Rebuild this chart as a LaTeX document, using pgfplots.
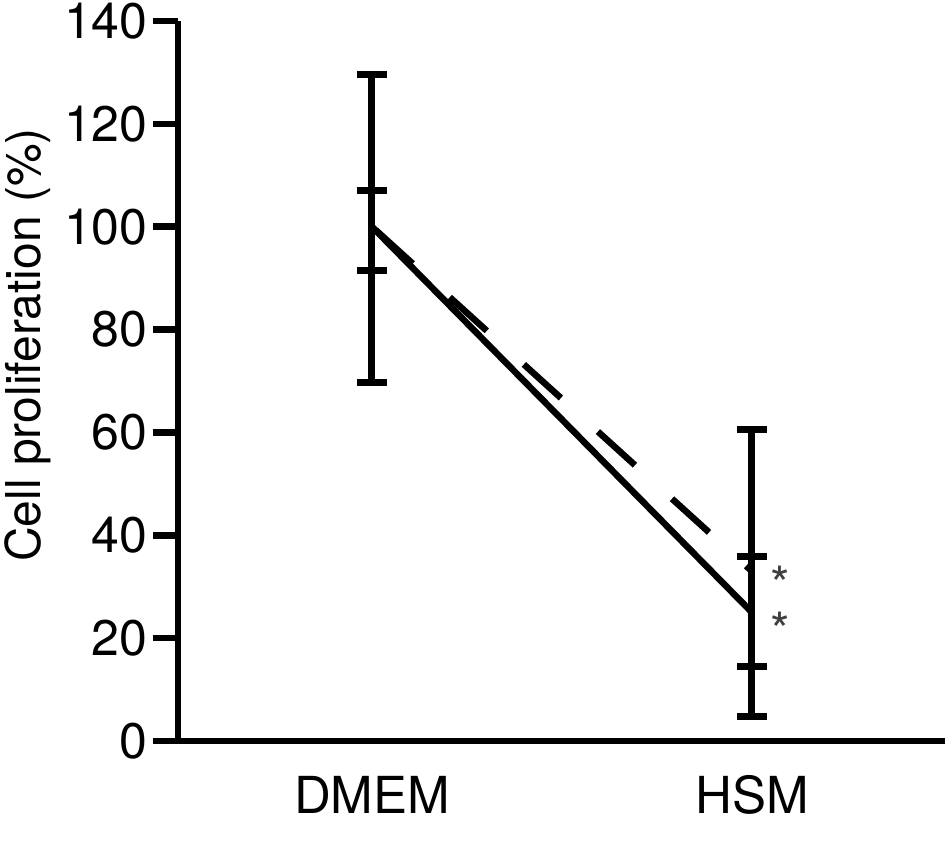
\documentclass[border=0pt]{standalone}
\usepackage{fontspec}
\setmainfont{TeX Gyre Heros}
\usepackage{pgfplots}
\pgfplotsset{compat=1.18}
\newcommand{\tickf}{\fontsize{50}{60}\selectfont}
\newcommand{\xf}{\fontsize{51}{61}\selectfont}
\newcommand{\labf}{\fontsize{48}{58}\selectfont}
\begin{document}
\begin{tikzpicture}
\useasboundingbox (-178pt,-101pt) rectangle (767pt,741pt);
\begin{axis}[
  at={(0pt,0pt)}, anchor=south west,
  scale only axis, width=767pt, height=720pt,
  xmin=0.4895, xmax=2.508, ymin=0, ymax=140,
  axis x line*=bottom, axis y line*=left,
  axis line style={-, line width=6.5pt, black},
  xtick={1,2}, xticklabels={DMEM,HSM},
  ytick={0,20,...,140},
  tick align=outside,
  major tick length=25pt,
  x tick style={draw=none},
  y tick style={line width=6.5pt, black},
  yticklabel style={font=\tickf, anchor=east, xshift=-2pt},
  /pgf/number format/assume math mode=true,
  xticklabel style={font=\xf, anchor=base, yshift=-48pt},
  ylabel={Cell proliferation (\%)},
  ylabel style={at={(axis description cs:-0.1956,0.55)}, anchor=center, font=\labf},
  clip=false,
]
% dashed series with large error bars
\addplot[black, line width=6.5pt, no markers, dash pattern=on 50pt off 50pt, dash phase=95pt,
  error bars/.cd, y dir=both, y explicit,
  error bar style={solid, line width=7pt, black},
  error mark options={solid, rotate=90, line width=7pt, mark size=15pt, black}]
  coordinates {
    (1,100) += (0,29.5) -= (0,30.2)
    (2,33)  += (0,27.5) -= (0,28.3)
  };
% solid series with small error bars
\addplot[black, line width=6.5pt, no markers, solid,
  error bars/.cd, y dir=both, y explicit,
  error bar style={solid, line width=7pt, black},
  error mark options={solid, rotate=90, line width=7pt, mark size=15pt, black}]
  coordinates {
    (1,100) += (0,7)    -= (0,8.5)
    (2,25)  += (0,10.8) -= (0,10.6)
  };
\node[text=black!75, font=\fontsize{50}{58}\selectfont, anchor=base, yshift=-26pt] at (axis cs:2.074,32) {*};
\node[text=black!75, font=\fontsize{50}{58}\selectfont, anchor=base, yshift=-26pt] at (axis cs:2.074,23) {*};
\end{axis}
\end{tikzpicture}
\end{document}
